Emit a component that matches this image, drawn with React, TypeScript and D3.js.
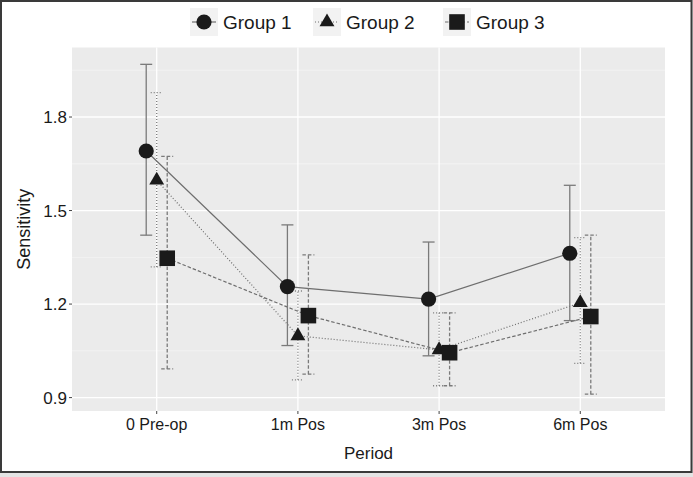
import React from "react";
import * as d3 from "d3";

const periods = ["0 Pre-op", "1m Pos", "3m Pos", "6m Pos"];
const groups = ["Group 1", "Group 2", "Group 3"];

const group1Mean = [1.691, 1.256, 1.216, 1.363];
const group1Low = [1.421, 1.067, 1.034, 1.147];
const group1High = [1.969, 1.454, 1.399, 1.581];

const group2Mean = [1.597, 1.098, 1.053, 1.204];
const group2Low = [1.319, 0.957, 0.938, 1.01];
const group2High = [1.878, 1.242, 1.172, 1.413];

const group3Mean = [1.347, 1.163, 1.044, 1.16];
const group3Low = [0.992, 0.975, 0.938, 0.911];
const group3High = [1.674, 1.358, 1.172, 1.421];

const yTicks = [0.9, 1.2, 1.5, 1.8];
const yMinor = [1.05, 1.35, 1.65, 1.95];

const series = [
  { name: groups[0], mean: group1Mean, low: group1Low, high: group1High, shape: "circle", dash: "none" },
  { name: groups[1], mean: group2Mean, low: group2Low, high: group2High, shape: "triangle", dash: "1 2" },
  { name: groups[2], mean: group3Mean, low: group3Low, high: group3High, shape: "square", dash: "3.5 2" },
];

const W = 693;
const H = 477;
const panel = { left: 72, right: 665, top: 47.5, bottom: 411 };
const FONT = "'Liberation Sans', Arial, Helvetica, sans-serif";

function Shape({ shape, x, y, s = 1 }: { shape: string; x: number; y: number; s?: number }) {
  const fill = "#1a1a1a";
  if (shape === "circle") return <circle cx={x} cy={y} r={7.6 * s} fill={fill} />;
  if (shape === "square") {
    const h = 7.8 * s;
    return <rect x={x - h} y={y - h} width={2 * h} height={2 * h} fill={fill} />;
  }
  const r = 8.6 * s;
  const pts = [
    [x, y - r],
    [x + r * 0.866, y + r * 0.5],
    [x - r * 0.866, y + r * 0.5],
  ];
  return <polygon points={pts.map((p) => p.join(",")).join(" ")} fill={fill} />;
}

export default function App() {
  const x = d3.scalePoint<string>().domain(periods).range([panel.left, panel.right]).padding(0.6);
  const dodge = d3.scalePoint<string>().domain(groups).range([-10.5, 10.5]);
  const y = d3.scaleLinear().domain([0.857, 2.023]).range([panel.bottom, panel.top]);
  const line = d3
    .line<[number, number]>()
    .x((d) => d[0])
    .y((d) => d[1]);

  const legendX = [190, 313, 443];

  return (
    <div style={{ position: "fixed", left: 0, top: 0 }}>
      <svg width={W} height={H} style={{ display: "block" }} fontFamily={FONT}>
        <rect x={0} y={0} width={W} height={H} fill="#e4e4e4" />
        <rect x={1} y={1} width={W - 2.5} height={471} fill="#ffffff" stroke="#3a3a3a" strokeWidth={2} />

        {/* panel */}
        <rect x={panel.left} y={panel.top} width={panel.right - panel.left} height={panel.bottom - panel.top} fill="#ebebeb" />
        {yMinor.map((v) => (
          <line key={"mn" + v} x1={panel.left} x2={panel.right} y1={y(v)} y2={y(v)} stroke="#f7f7f7" strokeWidth={0.7} />
        ))}
        {yTicks.map((v) => (
          <line key={"mj" + v} x1={panel.left} x2={panel.right} y1={y(v)} y2={y(v)} stroke="#ffffff" strokeWidth={1.3} />
        ))}
        {periods.map((p) => (
          <line key={"vx" + p} x1={x(p)} x2={x(p)} y1={panel.top} y2={panel.bottom} stroke="#ffffff" strokeWidth={1.3} />
        ))}

        {/* connecting lines */}
        {series.map((s) => (
          <path
            key={"ln" + s.name}
            d={line(periods.map((p, i) => [x(p)! + dodge(s.name)!, y(s.mean[i])]))!}
            fill="none"
            stroke="#6e6e6e"
            strokeWidth={1.2}
            strokeDasharray={s.dash}
          />
        ))}

        {/* error bars */}
        {series.map((s) =>
          periods.map((p, i) => {
            const cx = x(p)! + dodge(s.name)!;
            return (
              <g key={"eb" + s.name + p} stroke="#7a7a7a" strokeWidth={1.3} strokeDasharray={s.dash} fill="none">
                <line x1={cx} x2={cx} y1={y(s.low[i])} y2={y(s.high[i])} />
                <line x1={cx - 6} x2={cx + 6} y1={y(s.low[i])} y2={y(s.low[i])} />
                <line x1={cx - 6} x2={cx + 6} y1={y(s.high[i])} y2={y(s.high[i])} />
              </g>
            );
          })
        )}

        {/* points */}
        {series.map((s) =>
          periods.map((p, i) => (
            <Shape key={"pt" + s.name + p} shape={s.shape} x={x(p)! + dodge(s.name)!} y={y(s.mean[i])} />
          ))
        )}

        {/* y axis */}
        {yTicks.map((v) => (
          <g key={"yt" + v}>
            <line x1={panel.left - 3} x2={panel.left} y1={y(v)} y2={y(v)} stroke="#444" strokeWidth={1} />
            <text x={panel.left - 5} y={y(v)} dy="0.36em" textAnchor="end" fontSize={17} fill="#1a1a1a">
              {d3.format(".1f")(v)}
            </text>
          </g>
        ))}
        {/* x axis */}
        {periods.map((p) => (
          <g key={"xt" + p}>
            <line x1={x(p)} x2={x(p)} y1={panel.bottom} y2={panel.bottom + 3} stroke="#444" strokeWidth={1} />
            <text x={x(p)} y={panel.bottom + 19} textAnchor="middle" fontSize={16} fill="#1a1a1a">
              {p}
            </text>
          </g>
        ))}
        <text x={(panel.left + panel.right) / 2} y={459} textAnchor="middle" fontSize={17} fill="#1a1a1a">
          Period
        </text>
        <text transform={`translate(30,${(panel.top + panel.bottom) / 2}) rotate(-90)`} textAnchor="middle" fontSize={18} fill="#1a1a1a">
          Sensitivity
        </text>

        {/* legend */}
        {series.map((s, i) => {
          const kx = legendX[i];
          const ky = 8;
          const cy = ky + 14;
          return (
            <g key={"lg" + s.name}>
              <rect x={kx} y={ky} width={28} height={28} fill="#f2f2f2" />
              <line x1={kx + 2} x2={kx + 26} y1={cy} y2={cy} stroke="#6e6e6e" strokeWidth={1.2} strokeDasharray={s.dash} />
              <Shape shape={s.shape} x={kx + 14} y={cy} />
              <text x={kx + 33} y={cy} dy="0.36em" fontSize={19} fill="#1a1a1a">
                {s.name}
              </text>
            </g>
          );
        })}
      </svg>
    </div>
  );
}
